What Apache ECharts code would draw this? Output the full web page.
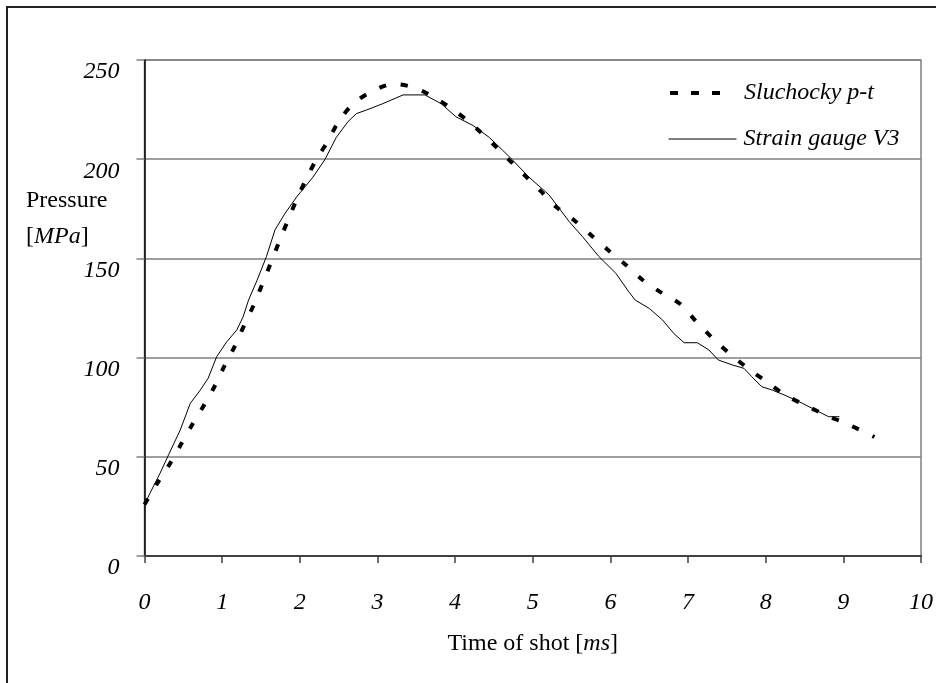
<!DOCTYPE html>
<html>
<head>
<meta charset="utf-8">
<script src="https://cdn.jsdelivr.net/npm/echarts@6/dist/echarts.min.js"></script>
<style>
html,body{margin:0;padding:0;background:#fff;}
#c{width:936px;height:683px;}
</style>
</head>
<body>
<div id="c"></div>
<script>
// Sluchocky p-t (dashed)
var sluchT = [0, 0.17, 0.33, 0.47, 0.61, 0.76, 0.90, 1.03, 1.16, 1.28, 1.40, 1.62, 1.73, 1.84, 1.95, 2.07, 2.21, 2.36, 2.50, 2.69, 2.92, 3.21, 3.50, 3.78, 4.01, 4.25, 4.48, 4.67, 4.88, 5.10, 5.30, 5.54, 5.76, 5.97, 6.20, 6.42, 6.67, 6.90, 7.10, 7.31, 7.54, 7.77, 8.02, 8.26, 8.51, 8.79, 9.06, 9.40];
var sluchP = [26, 37, 46.7, 56.3, 65.9, 75.6, 85.3, 95.8, 105.5, 116, 126, 147, 158, 168.5, 178.8, 189, 199.6, 209, 219, 228, 234, 237.9, 235.7, 230, 224, 216.4, 208, 200.6, 192.5, 184, 176, 169, 161.4, 154.2, 146.7, 139, 132.4, 127, 118.4, 110, 101.8, 94.6, 87.6, 81, 76, 70.7, 66.4, 60];
// Strain gauge V3 (solid)
var gaugeT = [0, 0.07, 0.2, 0.31, 0.46, 0.59, 0.72, 0.82, 0.93, 1.06, 1.19, 1.27, 1.34, 1.45, 1.57, 1.68, 1.81, 1.96, 2.17, 2.32, 2.47, 2.62, 2.73, 2.86, 3.07, 3.33, 3.61, 3.82, 4.01, 4.23, 4.44, 4.61, 4.74, 4.95, 5.21, 5.47, 5.64, 5.85, 6.07, 6.24, 6.32, 6.50, 6.67, 6.82, 6.95, 7.12, 7.27, 7.39, 7.57, 7.72, 7.82, 7.95, 8.08, 8.25, 8.47, 8.64, 8.81, 8.95];
var gaugeP = [26, 31.6, 41.7, 51, 63.5, 77, 83.7, 89.6, 100.5, 108, 114, 120.6, 129, 139, 150.9, 164.3, 172.7, 181, 191, 199.6, 211, 218.9, 223, 224.8, 228, 232.4, 232.4, 228, 221.4, 217, 211, 204.6, 199.6, 191, 182, 168.5, 161, 151, 142.5, 133, 129, 124.8, 119, 112, 107.5, 107.5, 103.8, 98.8, 96.3, 94.6, 90.4, 85.3, 83.7, 81, 77, 73.6, 70.2, 70.2];

var seriesNames = ['Sluchocky p-t', 'Strain gauge V3'];
var xTitle = ['Time of shot [', 'ms', ']'];
var yTitle = ['Pressure', 'MPa'];

function zip(a, b) { return a.map(function (v, i) { return [v, b[i]]; }); }

var FONT = 'Liberation Serif';
var noSymbol = {color: 'rgba(0,0,0,0)', borderColor: 'rgba(0,0,0,0)', borderWidth: 0, opacity: 0};
var chart = echarts.init(document.getElementById('c'), null, {renderer: 'canvas'});
chart.setOption({
  animation: false,
  backgroundColor: '#fff',
  grid: {left: 144.5, top: 60, right: 13, bottom: 127, show: true, borderColor: '#808080', borderWidth: 1.5, containLabel: false},
  xAxis: {
    type: 'value', min: 0, max: 10, interval: 1,
    axisLine: {show: true, onZero: false, lineStyle: {color: '#404040', width: 2}},
    axisTick: {show: true, inside: false, length: 7, lineStyle: {color: '#404040', width: 1.5}},
    axisLabel: {margin: 35, fontFamily: FONT, fontStyle: 'italic', fontSize: 24, color: '#000'},
    splitLine: {show: false},
    name: '{n|' + xTitle[0] + '}{i|' + xTitle[1] + '}{n|' + xTitle[2] + '}',
    nameLocation: 'middle', nameGap: 76,
    nameTextStyle: {rich: {
      n: {fontFamily: FONT, fontSize: 24, color: '#000'},
      i: {fontFamily: FONT, fontSize: 24, fontStyle: 'italic', color: '#000'}
    }}
  },
  yAxis: {
    type: 'value', min: 0, max: 250, interval: 50,
    axisLine: {show: true, lineStyle: {color: '#000', width: 1.5}},
    axisTick: {show: true, inside: false, length: 8, lineStyle: {color: '#808080', width: 1.5}},
    axisLabel: {margin: 25, fontFamily: FONT, fontStyle: 'italic', fontSize: 24, color: '#000', verticalAlign: 'top'},
    splitLine: {show: true, lineStyle: {color: '#808080', width: 1.5}}
  },
  legend: [
    {data: [seriesNames[0]], left: 668, top: 81, itemWidth: 52, itemHeight: 24, padding: 0, itemStyle: noSymbol,
     lineStyle: {color: '#000', width: 4, type: [8, 13]},
     textStyle: {fontFamily: FONT, fontStyle: 'italic', fontSize: 24, color: '#000', padding: [0, 0, 0, 17]}},
    {data: [seriesNames[1]], left: 668, top: 127, itemWidth: 68, itemHeight: 24, padding: 0, itemStyle: noSymbol,
     lineStyle: {color: '#000', width: 1, type: 'solid'},
     textStyle: {fontFamily: FONT, fontStyle: 'italic', fontSize: 24, color: '#000', padding: [0, 0, 0, 2]}}
  ],
  graphic: [
    {type: 'rect', shape: {x: 7, y: 7, width: 1200, height: 1200}, style: {fill: 'none', stroke: '#222', lineWidth: 2}, silent: true},
    {type: 'text', left: 26, top: 189, style: {text: yTitle[0], fontFamily: FONT, fontSize: 24, fill: '#000'}},
    {type: 'text', left: 26, top: 225, style: {text: '{n|[}{i|' + yTitle[1] + '}{n|]}', rich: {
      n: {fontFamily: FONT, fontSize: 24, fill: '#000'},
      i: {fontFamily: FONT, fontSize: 24, fontStyle: 'italic', fill: '#000'}
    }}}
  ],
  series: [
    {name: seriesNames[0], type: 'line', data: zip(sluchT, sluchP), symbol: 'none', smooth: 0.3,
     lineStyle: {color: '#000', width: 4, type: [7, 15]}, itemStyle: {color: '#000'}, z: 3},
    {name: seriesNames[1], type: 'line', data: zip(gaugeT, gaugeP), symbol: 'none',
     lineStyle: {color: '#000', width: 1}, itemStyle: {color: '#000'}, z: 4}
  ]
});
</script>
</body>
</html>
